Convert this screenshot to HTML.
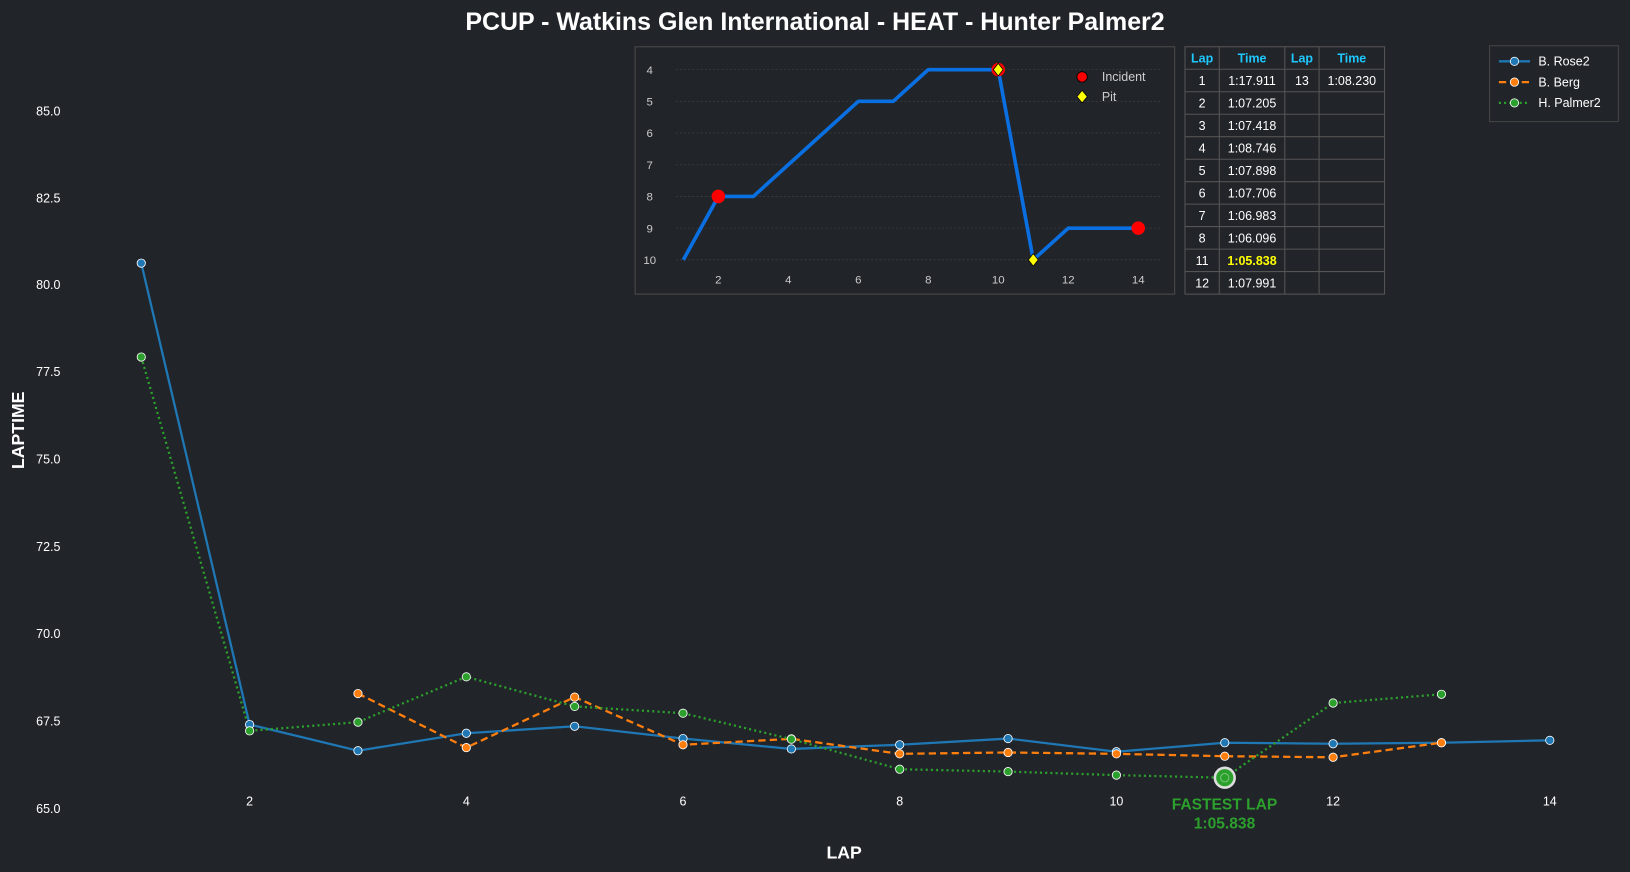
<!DOCTYPE html>
<html><head><meta charset="utf-8"><style>
html,body{margin:0;padding:0;background:#212429;}
svg{display:block;font-family:"Liberation Sans",Arial,sans-serif;}
</style></head><body>
<svg width="1630" height="872" viewBox="0 0 1568 839" xmlns="http://www.w3.org/2000/svg">
<rect width="1568" height="839" fill="#212429"/>
<text x="784" y="29" text-anchor="middle" fill="#fff" font-size="24" font-weight="bold">PCUP - Watkins Glen International - HEAT - Hunter Palmer2</text>
<!-- y axis labels -->
<g fill="#fff" font-size="12" text-anchor="end">
<text x="58" y="111">85.0</text><text x="58" y="195">82.5</text><text x="58" y="278">80.0</text><text x="58" y="362">77.5</text><text x="58" y="446">75.0</text><text x="58" y="530">72.5</text><text x="58" y="614">70.0</text><text x="58" y="698">67.5</text><text x="58" y="782">65.0</text>
</g>
<g fill="#fff" font-size="12" text-anchor="middle">
<text x="240" y="775">2</text><text x="448.5" y="775">4</text><text x="657" y="775">6</text><text x="865.5" y="775">8</text><text x="1074" y="775">10</text><text x="1282.5" y="775">12</text><text x="1491" y="775">14</text>
</g>
<text x="812" y="826" text-anchor="middle" fill="#fff" font-size="17" font-weight="bold">LAP</text>
<text transform="translate(23,414) rotate(-90)" text-anchor="middle" fill="#fff" font-size="17" font-weight="bold">LAPTIME</text>

<!-- series: x=240+(lap-2)*104.25 ; y=777-(v-65)*33.55 -->
<polyline fill="none" stroke="#1f77b4" stroke-width="2.2" points="135.75,253.2 240,697.1 344.25,722.3 448.5,705.5 552.75,698.8 657,710.6 761.25,720.6 865.5,716.6 969.75,710.6 1074,723.3 1178.25,714.6 1282.5,715.6 1386.75,714.6 1491,712.3"/>
<polyline fill="none" stroke="#ff7f0e" stroke-width="2.2" stroke-dasharray="7,4" points="344.25,667.3 448.5,719.3 552.75,670.7 657,716.6 761.25,710.9 865.5,725.3 969.75,724 1074,725.3 1178.25,727.6 1282.5,728.6 1386.75,714.6"/>
<polyline fill="none" stroke="#2ca02c" stroke-width="2.2" stroke-dasharray="2,3" points="135.75,343.5 240,703.2 344.25,694.8 448.5,651.2 552.75,679.7 657,686.2 761.25,711.2 865.5,740.1 969.75,742.4 1074,745.8 1178.25,748.3 1282.5,676.4 1386.75,668.0"/>
<g stroke="#fff" stroke-width="0.8" fill="#1f77b4">
<circle cx="135.75" cy="253.2" r="4"/><circle cx="240" cy="697.1" r="4"/><circle cx="344.25" cy="722.3" r="4"/><circle cx="448.5" cy="705.5" r="4"/><circle cx="552.75" cy="698.8" r="4"/><circle cx="657" cy="710.6" r="4"/><circle cx="761.25" cy="720.6" r="4"/><circle cx="865.5" cy="716.6" r="4"/><circle cx="969.75" cy="710.6" r="4"/><circle cx="1074" cy="723.3" r="4"/><circle cx="1178.25" cy="714.6" r="4"/><circle cx="1282.5" cy="715.6" r="4"/><circle cx="1386.75" cy="714.6" r="4"/><circle cx="1491" cy="712.3" r="4"/>
</g>
<g stroke="#fff" stroke-width="0.8" fill="#ff7f0e">
<circle cx="344.25" cy="667.3" r="4"/><circle cx="448.5" cy="719.3" r="4"/><circle cx="552.75" cy="670.7" r="4"/><circle cx="657" cy="716.6" r="4"/><circle cx="761.25" cy="710.9" r="4"/><circle cx="865.5" cy="725.3" r="4"/><circle cx="969.75" cy="724" r="4"/><circle cx="1074" cy="725.3" r="4"/><circle cx="1178.25" cy="727.6" r="4"/><circle cx="1282.5" cy="728.6" r="4"/><circle cx="1386.75" cy="714.6" r="4"/>
</g>
<g stroke="#fff" stroke-width="0.8" fill="#2ca02c">
<circle cx="135.75" cy="343.5" r="4"/><circle cx="240" cy="703.2" r="4"/><circle cx="344.25" cy="694.8" r="4"/><circle cx="448.5" cy="651.2" r="4"/><circle cx="552.75" cy="679.7" r="4"/><circle cx="657" cy="686.2" r="4"/><circle cx="761.25" cy="711.2" r="4"/><circle cx="865.5" cy="740.1" r="4"/><circle cx="969.75" cy="742.4" r="4"/><circle cx="1074" cy="745.8" r="4"/><circle cx="1282.5" cy="676.4" r="4"/><circle cx="1386.75" cy="668.0" r="4"/>
</g>
<circle cx="1178.25" cy="748.3" r="9.5" fill="#2ca02c" stroke="#ddd" stroke-width="2.5"/>
<circle cx="1178.25" cy="748.3" r="4" fill="#2ca02c" stroke="#8c8" stroke-width="0.8"/>
<text x="1178" y="779" text-anchor="middle" fill="#2ca02c" font-size="15" font-weight="bold">FASTEST LAP</text>
<text x="1178" y="797" text-anchor="middle" fill="#2ca02c" font-size="15" font-weight="bold">1:05.838</text>

<!-- inset -->
<rect x="611" y="45" width="519" height="238" fill="#212429" stroke="#444" stroke-width="1.2"/>
<g stroke="#3a3d42" stroke-width="0.8" stroke-dasharray="2,2">
<line x1="650" x2="1117" y1="67" y2="67"/><line x1="650" x2="1117" y1="97.5" y2="97.5"/><line x1="650" x2="1117" y1="128" y2="128"/><line x1="650" x2="1117" y1="158.5" y2="158.5"/><line x1="650" x2="1117" y1="189" y2="189"/><line x1="650" x2="1117" y1="219.5" y2="219.5"/><line x1="650" x2="1117" y1="250" y2="250"/>
</g>
<g fill="#ccc" font-size="11" text-anchor="middle">
<text x="625" y="71">4</text><text x="625" y="101.5">5</text><text x="625" y="132">6</text><text x="625" y="162.5">7</text><text x="625" y="193">8</text><text x="625" y="223.5">9</text><text x="625" y="254">10</text>
<text x="691" y="273">2</text><text x="758.3" y="273">4</text><text x="825.7" y="273">6</text><text x="893" y="273">8</text><text x="960.3" y="273">10</text><text x="1027.7" y="273">12</text><text x="1095" y="273">14</text>
</g>
<polyline fill="none" stroke="#0a6fe0" stroke-width="3.5" stroke-linejoin="round" points="657.3,250 691,189 724.7,189 758.3,158.5 792,128 825.7,97.5 859.3,97.5 893,67 926.7,67 960.3,67 994,250 1027.7,219.5 1061.3,219.5 1095,219.5"/>
<circle cx="691" cy="189" r="6.5" fill="#ff0000"/>
<circle cx="1095" cy="219.5" r="6.5" fill="#ff0000"/>
<circle cx="960.3" cy="67" r="6.5" fill="#ff0000"/>
<polygon points="960.3,61 965,67 960.3,73 955.6,67" fill="#ffff00" stroke="#000" stroke-width="0.7"/>
<polygon points="994,244 998.7,250 994,256 989.3,250" fill="#ffff00" stroke="#000" stroke-width="0.7"/>
<circle cx="1041" cy="74" r="5" fill="#ff0000" stroke="#000" stroke-width="0.8"/>
<text x="1060" y="78" fill="#ccc" font-size="12">Incident</text>
<polygon points="1041,87 1046,93 1041,99 1036,93" fill="#ffff00" stroke="#000" stroke-width="0.7"/>
<text x="1060" y="97" fill="#ccc" font-size="12">Pit</text>

<!-- table -->
<g stroke="#555" stroke-width="1" fill="none">
<rect x="1140" y="45" width="192" height="238"/>
<line x1="1173" x2="1173" y1="45" y2="283"/><line x1="1236" x2="1236" y1="45" y2="283"/><line x1="1269" x2="1269" y1="45" y2="283"/>
<line x1="1140" x2="1332" y1="66.6" y2="66.6"/><line x1="1140" x2="1332" y1="88.3" y2="88.3"/><line x1="1140" x2="1332" y1="109.9" y2="109.9"/><line x1="1140" x2="1332" y1="131.5" y2="131.5"/><line x1="1140" x2="1332" y1="153.2" y2="153.2"/><line x1="1140" x2="1332" y1="174.8" y2="174.8"/><line x1="1140" x2="1332" y1="196.4" y2="196.4"/><line x1="1140" x2="1332" y1="218" y2="218"/><line x1="1140" x2="1332" y1="239.7" y2="239.7"/><line x1="1140" x2="1332" y1="261.3" y2="261.3"/>
</g>
<g font-size="12" text-anchor="middle">
<g fill="#1ec8ff" font-weight="bold"><text x="1156.5" y="60">Lap</text><text x="1204.5" y="60">Time</text><text x="1252.5" y="60">Lap</text><text x="1300.5" y="60">Time</text></g>
<g fill="#fff">
<text x="1156.5" y="82">1</text><text x="1204.5" y="82">1:17.911</text><text x="1252.5" y="82">13</text><text x="1300.5" y="82">1:08.230</text>
<text x="1156.5" y="103.5">2</text><text x="1204.5" y="103.5">1:07.205</text>
<text x="1156.5" y="125">3</text><text x="1204.5" y="125">1:07.418</text>
<text x="1156.5" y="146.7">4</text><text x="1204.5" y="146.7">1:08.746</text>
<text x="1156.5" y="168.3">5</text><text x="1204.5" y="168.3">1:07.898</text>
<text x="1156.5" y="190">6</text><text x="1204.5" y="190">1:07.706</text>
<text x="1156.5" y="211.6">7</text><text x="1204.5" y="211.6">1:06.983</text>
<text x="1156.5" y="233.2">8</text><text x="1204.5" y="233.2">1:06.096</text>
<text x="1156.5" y="254.9">11</text>
<text x="1156.5" y="276.5">12</text><text x="1204.5" y="276.5">1:07.991</text>
</g>
<text x="1204.5" y="254.9" fill="#ffff00" font-weight="bold">1:05.838</text>
</g>

<!-- legend -->
<rect x="1433" y="44" width="124" height="73" fill="#212429" stroke="#444" stroke-width="1"/>
<line x1="1442" x2="1472" y1="59" y2="59" stroke="#1f77b4" stroke-width="2.2"/><circle cx="1457" cy="59" r="4" fill="#1f77b4" stroke="#fff" stroke-width="0.8"/>
<line x1="1442" x2="1472" y1="79" y2="79" stroke="#ff7f0e" stroke-width="2.2" stroke-dasharray="7,4"/><circle cx="1457" cy="79" r="4" fill="#ff7f0e" stroke="#fff" stroke-width="0.8"/>
<line x1="1442" x2="1472" y1="99" y2="99" stroke="#2ca02c" stroke-width="2.2" stroke-dasharray="2,3"/><circle cx="1457" cy="99" r="4" fill="#2ca02c" stroke="#fff" stroke-width="0.8"/>
<g fill="#fff" font-size="12"><text x="1480" y="63">B. Rose2</text><text x="1480" y="83">B. Berg</text><text x="1480" y="103">H. Palmer2</text></g>
</svg>
</body></html>
